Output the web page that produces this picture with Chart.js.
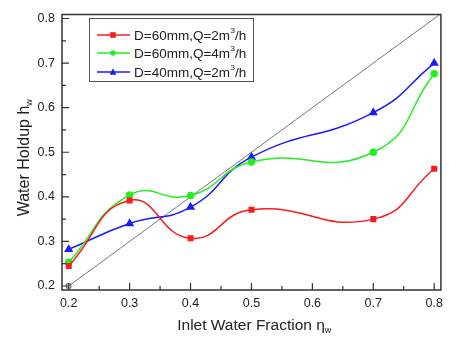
<!DOCTYPE html>
<html>
<head>
<meta charset="utf-8">
<script src="https://cdn.jsdelivr.net/npm/chart.js@4.4.0/dist/chart.umd.min.js"></script>
<style>
  html, body { margin: 0; padding: 0; background: #fff; }
  #wrap { width: 449px; height: 337px; }
</style>
</head>
<body>
<div id="wrap"><canvas id="holdup-chart" width="449" height="337"></canvas></div>
<script>
// data
var inletFraction = [0.2, 0.3, 0.4, 0.5, 0.7, 0.8];
var d60q2 = [0.245, 0.392, 0.307, 0.371, 0.350, 0.463];
var d60q4 = [0.253, 0.404, 0.403, 0.478, 0.500, 0.676];
var d40q2 = [0.282, 0.340, 0.377, 0.489, 0.589, 0.700];
var diagonalX = [0.2, 0.81];
var xTicks = [0.2, 0.3, 0.4, 0.5, 0.6, 0.7, 0.8];
var yTicks = [0.2, 0.3, 0.4, 0.5, 0.6, 0.7, 0.8];

var FONT = "'Liberation Sans', Arial, sans-serif";

function pts(xs, ys) {
    return xs.map(function (x, i) { return { x: x, y: ys[i] }; });
}

// frame, inward ticks, legend and axis titles with subscripts
var decorations = {
    id: 'decorations',
    afterDraw: function (chart) {
        var ctx = chart.ctx, a = chart.chartArea;
        var xs = chart.scales.x, ys = chart.scales.y;
        ctx.save();
        ctx.strokeStyle = '#333';
        ctx.lineWidth = 1.5;
        ctx.strokeRect(a.left, a.top, a.right - a.left, a.bottom - a.top);

        ctx.lineWidth = 1.2;
        ctx.beginPath();
        for (var v = 0.2; v <= 0.8001; v += 0.05) {
            var major = Math.abs(v * 10 - Math.round(v * 10)) < 0.01;
            var len = major ? 7 : 4;
            var px = xs.getPixelForValue(v);
            ctx.moveTo(px, a.bottom); ctx.lineTo(px, a.bottom - len);
            var py = ys.getPixelForValue(v);
            ctx.moveTo(a.left, py); ctx.lineTo(a.left + len, py);
        }
        ctx.stroke();

        // legend
        var lx = 89, ly = 18, lw = 164, lh = 63;
        ctx.fillStyle = '#fff';
        ctx.fillRect(lx, ly, lw, lh);
        ctx.strokeStyle = '#555';
        ctx.lineWidth = 1;
        ctx.strokeRect(lx + 0.5, ly + 0.5, lw, lh);
        var rows = [35, 53, 72];
        chart.data.datasets.slice(0, 3).forEach(function (ds, i) {
            var y = rows[i];
            ctx.strokeStyle = ds.borderColor;
            ctx.lineWidth = 1.5;
            ctx.beginPath(); ctx.moveTo(97, y); ctx.lineTo(130, y); ctx.stroke();
            ctx.fillStyle = ds.borderColor;
            drawMarker(ctx, ds.pointStyle, 113, y, 2.8);
            ctx.fillStyle = '#222';
            ctx.font = '13.5px ' + FONT;
            ctx.textBaseline = 'middle';
            ctx.textAlign = 'left';
            var parts = ds.label.split('³');
            ctx.fillText(parts[0], 134, y + 1);
            var w0 = ctx.measureText(parts[0]).width;
            ctx.font = '8px ' + FONT;
            ctx.fillText('3', 134 + w0 + 0.5, y - 4);
            ctx.font = '13.5px ' + FONT;
            ctx.fillText(parts[1], 134 + w0 + 5, y + 1);
        });

        // x title
        ctx.fillStyle = '#222';
        ctx.textBaseline = 'alphabetic';
        ctx.textAlign = 'left';
        ctx.font = '15.5px ' + FONT;
        var xt = 'Inlet Water Fraction \u03b7';
        var xw = ctx.measureText(xt).width;
        var x0 = 254 - (xw + 6) / 2;
        ctx.fillText(xt, x0, 330);
        ctx.font = '9px ' + FONT;
        ctx.fillText('w', x0 + xw, 333);

        // y title
        ctx.translate(24, 158);
        ctx.rotate(-Math.PI / 2);
        ctx.font = '16px ' + FONT;
        var yt = 'Water Holdup h';
        var yw = ctx.measureText(yt).width;
        var y0 = -(yw + 6) / 2;
        ctx.fillText(yt, y0, 5);
        ctx.font = '9px ' + FONT;
        ctx.fillText('w', y0 + yw, 8);
        ctx.restore();
    }
};

function drawMarker(ctx, style, x, y, r) {
    ctx.beginPath();
    if (style === 'rect') {
        ctx.rect(x - r, y - r, 2 * r, 2 * r);
    } else if (style === 'triangle') {
        ctx.moveTo(x, y - r * 1.3); ctx.lineTo(x + r * 1.2, y + r); ctx.lineTo(x - r * 1.2, y + r); ctx.closePath();
    } else {
        ctx.arc(x, y, r, 0, Math.PI * 2);
    }
    ctx.fill();
}

new Chart(document.getElementById('holdup-chart'), {
    type: 'scatter',
    data: {
        datasets: [
            {
                label: 'D=60mm,Q=2m³/h',
                data: pts(inletFraction, d60q2),
                borderColor: '#ff1a1a', backgroundColor: '#ff1a1a',
                pointStyle: 'rect', pointRadius: 3.2,
                showLine: true, tension: 0.5, borderWidth: 1.5
            },
            {
                label: 'D=60mm,Q=4m³/h',
                data: pts(inletFraction, d60q4),
                borderColor: '#22ee22', backgroundColor: '#22ee22',
                pointStyle: 'circle', pointRadius: 3,
                showLine: true, tension: 0.5, borderWidth: 1.5
            },
            {
                label: 'D=40mm,Q=2m³/h',
                data: pts(inletFraction, d40q2),
                borderColor: '#1a1aff', backgroundColor: '#1a1aff',
                pointStyle: 'triangle', pointRadius: 3.8,
                showLine: true, tension: 0.5, borderWidth: 1.5
            },
            {
                label: 'y=x',
                data: pts(diagonalX, diagonalX),
                borderColor: '#555', backgroundColor: 'rgba(0,0,0,0)',
                pointStyle: 'rect', pointRadius: [3, 0], pointBorderWidth: 1,
                showLine: true, tension: 0, borderWidth: 0.8
            }
        ]
    },
    options: {
        responsive: false,
        animation: false,
        layout: { padding: { left: 0, right: 2, top: 10, bottom: 0 } },
        plugins: {
            legend: { display: false },
            tooltip: { enabled: false }
        },
        scales: {
            x: {
                type: 'linear', min: 0.189, max: 0.811,
                grid: { display: false, drawTicks: false },
                border: { display: false },
                afterBuildTicks: function (s) { s.ticks = xTicks.map(function (v) { return { value: v }; }); },
                afterFit: function (s) { s.height = 47; },
                ticks: {
                    padding: 6, maxRotation: 0, color: '#222',
                    font: { family: FONT, size: 12.5 },
                    callback: function (v) { return v.toFixed(1); }
                }
            },
            y: {
                type: 'linear', min: 0.191, max: 0.809,
                grid: { display: false, drawTicks: false },
                border: { display: false },
                afterBuildTicks: function (s) { s.ticks = yTicks.map(function (v) { return { value: v }; }); },
                afterFit: function (s) { s.width = 62; },
                ticks: {
                    padding: 7, color: '#222',
                    font: { family: FONT, size: 12.5 },
                    callback: function (v) { return v.toFixed(1); }
                }
            }
        }
    },
    plugins: [decorations]
});
</script>
</body>
</html>
